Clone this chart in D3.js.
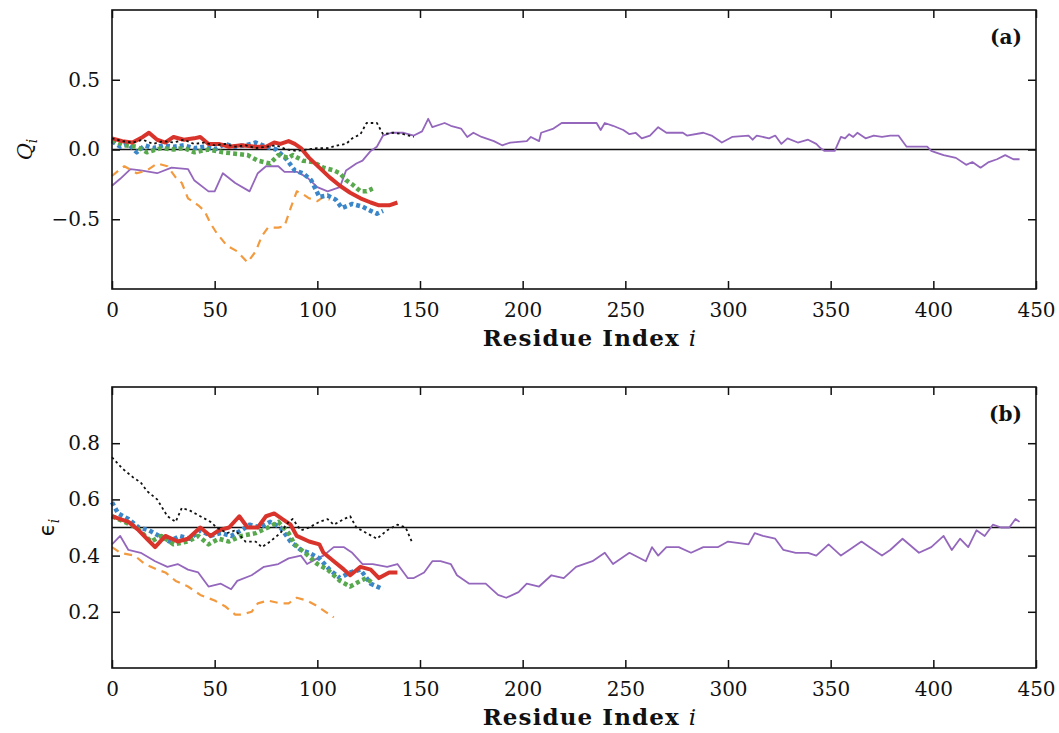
<!DOCTYPE html>
<html>
<head>
<meta charset="utf-8">
<script src="https://cdn.jsdelivr.net/npm/d3@7/dist/d3.min.js"></script>
<style>
  body { margin: 0; background: #fff; }
  svg { display: block; }
  .axis text { font-family: "DejaVu Serif", serif; font-size: 20px; fill: #111; }
  .axis-label { font-family: "DejaVu Serif", serif; font-size: 23px; font-weight: bold; fill: #111; }
</style>
</head>
<body>
<svg id="chart"></svg>
<script>
// shared ticks
const xTicks = [0, 50, 100, 150, 200, 250, 300, 350, 400, 450];
const qTicks = [-0.5, 0.0, 0.5];
const eTicks = [0.2, 0.4, 0.6, 0.8];

// panel (a): Q_i per residue
const purpleQ = [[0,-0.26],[4,-0.21],[9,-0.14],[14,-0.15],[22,-0.17],[29,-0.13],[37,-0.14],[40,-0.22],[47,-0.30],[50,-0.30],[54,-0.17],[60,-0.24],[67,-0.30],[71,-0.17],[75,-0.12],[81,-0.12],[84,-0.16],[90,-0.16],[95,-0.20],[100,-0.27],[105,-0.30],[111,-0.27],[114,-0.15],[119,-0.10],[122,-0.08],[126,-0.01],[129,0.02],[132,0.10],[136,0.12],[142,0.12],[147,0.10],[151,0.13],[154,0.22],[156,0.16],[162,0.19],[165,0.17],[170,0.15],[173,0.09],[176,0.12],[180,0.09],[186,0.06],[190,0.03],[194,0.05],[202,0.06],[204,0.09],[208,0.06],[209,0.12],[215,0.15],[219,0.19],[236,0.19],[238,0.14],[240,0.19],[244,0.17],[249,0.14],[252,0.11],[255,0.12],[258,0.08],[262,0.10],[266,0.16],[270,0.12],[278,0.12],[280,0.10],[288,0.12],[292,0.10],[297,0.05],[302,0.09],[310,0.10],[312,0.07],[314,0.10],[320,0.08],[323,0.10],[326,0.04],[329,0.08],[334,0.05],[339,0.07],[343,0.04],[345,0.01],[347,-0.01],[352,-0.01],[355,0.09],[357,0.08],[359,0.11],[361,0.09],[363,0.12],[367,0.08],[371,0.10],[375,0.09],[379,0.10],[383,0.10],[386,0.04],[387,0.02],[397,0.02],[399,-0.01],[401,-0.02],[405,-0.04],[411,-0.06],[416,-0.11],[419,-0.09],[423,-0.13],[427,-0.09],[431,-0.07],[435,-0.04],[439,-0.07],[442,-0.07]];
const orangeQ = [[0,-0.19],[4,-0.14],[6,-0.12],[12,-0.17],[17,-0.15],[22,-0.10],[27,-0.12],[31,-0.20],[34,-0.24],[37,-0.35],[42,-0.40],[45,-0.44],[48,-0.53],[51,-0.60],[56,-0.69],[61,-0.73],[66,-0.81],[70,-0.73],[73,-0.62],[76,-0.56],[81,-0.56],[84,-0.55],[87,-0.42],[90,-0.30],[93,-0.32],[96,-0.35],[100,-0.37],[103,-0.34],[106,-0.36]];
const blackQ = [[0,0.08],[5,0.06],[10,0.05],[15,0.07],[20,0.04],[25,0.06],[30,0.05],[35,0.07],[40,0.04],[45,0.05],[50,0.03],[55,0.04],[60,0.02],[65,0.03],[70,0.01],[75,0.02],[80,0.03],[85,0.0],[90,-0.01],[95,0.0],[100,0.01],[105,0.01],[110,0.03],[114,0.04],[117,0.08],[121,0.11],[124,0.19],[129,0.19],[132,0.11],[137,0.12],[142,0.11],[147,0.09]];
const redQ = [[0,0.08],[5,0.06],[10,0.05],[15,0.09],[18,0.12],[22,0.07],[26,0.05],[30,0.09],[35,0.07],[40,0.08],[43,0.09],[47,0.04],[52,0.04],[57,0.02],[63,0.03],[70,0.02],[75,0.02],[79,0.05],[82,0.04],[86,0.06],[89,0.04],[92,0.01],[96,-0.06],[101,-0.13],[106,-0.20],[111,-0.26],[116,-0.31],[121,-0.35],[126,-0.38],[130,-0.40],[135,-0.40],[139,-0.38]];
const blueQ = [[0,0.06],[4,0.02],[8,0.04],[12,-0.02],[16,0.03],[20,0.01],[25,0.03],[30,0.02],[35,0.03],[40,0.01],[45,0.02],[50,0.0],[55,0.04],[60,0.02],[65,0.03],[70,0.05],[75,0.02],[80,0.0],[85,-0.07],[89,-0.15],[93,-0.17],[97,-0.22],[101,-0.34],[105,-0.33],[109,-0.36],[112,-0.42],[117,-0.39],[122,-0.41],[126,-0.44],[129,-0.46],[132,-0.44]];
const greenQ = [[0,0.07],[6,0.03],[12,0.02],[17,-0.02],[24,0.01],[30,0.0],[35,0.01],[40,-0.02],[47,0.0],[54,-0.02],[60,-0.03],[66,-0.04],[71,-0.08],[77,-0.10],[81,-0.04],[86,-0.06],[88,-0.04],[93,-0.08],[98,-0.09],[103,-0.13],[108,-0.15],[111,-0.17],[114,-0.22],[117,-0.25],[121,-0.30],[124,-0.30],[127,-0.28]];

// panel (b): epsilon_i per residue
const purpleE = [[0,0.44],[4,0.47],[8,0.42],[14,0.41],[21,0.38],[27,0.36],[32,0.37],[37,0.35],[42,0.34],[47,0.29],[53,0.30],[58,0.28],[61,0.31],[68,0.33],[74,0.36],[81,0.37],[86,0.39],[92,0.40],[95,0.37],[100,0.39],[103,0.40],[108,0.43],[113,0.43],[117,0.41],[122,0.37],[127,0.37],[134,0.36],[139,0.37],[144,0.32],[147,0.32],[152,0.34],[156,0.38],[160,0.38],[165,0.37],[168,0.33],[174,0.30],[182,0.30],[188,0.26],[192,0.25],[198,0.27],[202,0.30],[208,0.29],[214,0.33],[220,0.32],[226,0.36],[234,0.38],[240,0.41],[244,0.37],[252,0.41],[260,0.38],[263,0.43],[266,0.40],[270,0.43],[276,0.43],[282,0.41],[288,0.43],[295,0.43],[300,0.45],[310,0.44],[313,0.48],[317,0.47],[323,0.46],[327,0.42],[333,0.41],[339,0.41],[343,0.40],[349,0.44],[355,0.40],[359,0.42],[365,0.45],[369,0.43],[375,0.40],[379,0.42],[385,0.46],[393,0.41],[399,0.43],[405,0.47],[409,0.42],[413,0.46],[417,0.43],[421,0.49],[425,0.47],[429,0.51],[433,0.50],[437,0.50],[440,0.53],[442,0.52]];
const orangeE = [[0,0.43],[4,0.41],[11,0.40],[16,0.37],[22,0.35],[26,0.34],[31,0.31],[37,0.29],[43,0.26],[50,0.24],[55,0.22],[60,0.19],[63,0.19],[68,0.20],[71,0.23],[76,0.24],[82,0.23],[86,0.23],[90,0.25],[95,0.24],[100,0.22],[104,0.20],[108,0.18]];
const blackE = [[0,0.75],[5,0.71],[10,0.68],[14,0.66],[17,0.63],[22,0.60],[27,0.54],[31,0.52],[34,0.57],[38,0.56],[43,0.54],[48,0.52],[51,0.50],[56,0.48],[60,0.49],[65,0.45],[70,0.45],[73,0.43],[77,0.45],[82,0.48],[86,0.52],[88,0.53],[92,0.49],[96,0.50],[101,0.52],[105,0.53],[108,0.51],[113,0.53],[116,0.54],[119,0.50],[124,0.48],[129,0.46],[134,0.49],[139,0.51],[143,0.50],[146,0.45]];
const redE = [[0,0.54],[4,0.53],[8,0.52],[13,0.49],[17,0.46],[21,0.43],[26,0.47],[32,0.45],[37,0.46],[43,0.50],[48,0.47],[52,0.49],[57,0.50],[62,0.54],[66,0.50],[71,0.50],[75,0.54],[79,0.55],[83,0.53],[87,0.51],[90,0.47],[96,0.45],[101,0.44],[103,0.41],[108,0.38],[113,0.35],[116,0.33],[121,0.36],[126,0.35],[130,0.32],[135,0.34],[139,0.34]];
const blueE = [[0,0.59],[3,0.55],[8,0.53],[13,0.50],[18,0.49],[23,0.47],[28,0.45],[33,0.47],[38,0.46],[43,0.49],[48,0.47],[53,0.48],[58,0.47],[63,0.49],[67,0.51],[72,0.50],[77,0.52],[82,0.50],[87,0.45],[92,0.42],[96,0.41],[101,0.39],[106,0.35],[111,0.32],[116,0.34],[121,0.35],[126,0.30],[132,0.28]];
const greenE = [[0,0.54],[6,0.52],[12,0.50],[19,0.45],[24,0.47],[30,0.44],[37,0.45],[42,0.47],[47,0.44],[52,0.46],[57,0.45],[63,0.47],[70,0.48],[76,0.50],[81,0.52],[86,0.48],[89,0.44],[94,0.41],[100,0.37],[105,0.35],[111,0.31],[116,0.29],[121,0.31],[124,0.32],[127,0.30]];

const W = 1059, H = 733;
const svg = d3.select("#chart").attr("width", W).attr("height", H);

const x = d3.scaleLinear().domain([0, 450]).range([112, 1036]);

const styles = {
  purple: { color: "#9467bd", width: 1.8, dash: null },
  orange: { color: "#f39a3f", width: 2.2, dash: "8,6" },
  blue:   { color: "#3a86c8", width: 4.5, dash: "4,3" },
  green:  { color: "#58a84d", width: 4.5, dash: "4,3" },
  red:    { color: "#d9342b", width: 4, dash: null },
  black:  { color: "#111", width: 1.8, dash: "2.5,3" }
};

function panel(opts) {
  const y = d3.scaleLinear().domain(opts.domain).range([opts.bottom, opts.top]);
  const g = svg.append("g");
  const line = d3.line().x(d => x(d[0])).y(d => y(d[1]));

  // reference line
  g.append("line")
    .attr("x1", x(0)).attr("x2", x(450))
    .attr("y1", y(opts.ref)).attr("y2", y(opts.ref))
    .attr("stroke", "#111").attr("stroke-width", 1.6);

  opts.series.forEach(([data, key]) => {
    const s = styles[key];
    g.append("path")
      .datum(data)
      .attr("d", line)
      .attr("fill", "none")
      .attr("stroke", s.color)
      .attr("stroke-width", s.width)
      .attr("stroke-dasharray", s.dash)
      .attr("stroke-linejoin", "round");
  });

  // axes, matplotlib style: inward ticks on all sides
  const tick = 8;
  g.append("g").attr("class", "axis")
    .attr("transform", `translate(0,${opts.bottom})`)
    .call(d3.axisBottom(x).tickValues(xTicks).tickFormat(d3.format("d")).tickSizeInner(-tick).tickSizeOuter(0).tickPadding(14));
  g.append("g").attr("class", "axis")
    .attr("transform", `translate(0,${opts.top})`)
    .call(d3.axisTop(x).tickValues(xTicks).tickFormat("").tickSizeInner(-tick).tickSizeOuter(0));
  g.append("g").attr("class", "axis")
    .attr("transform", `translate(${x(0)},0)`)
    .call(d3.axisLeft(y).tickValues(opts.ticks).tickFormat(d => d3.format(".1f")(d).replace("-", "\u2212")).tickSizeInner(-tick).tickSizeOuter(0).tickPadding(12));
  g.append("g").attr("class", "axis")
    .attr("transform", `translate(${x(450)},0)`)
    .call(d3.axisRight(y).tickValues(opts.ticks).tickFormat("").tickSizeInner(-tick).tickSizeOuter(0));
  g.selectAll(".axis path.domain").remove();
  g.selectAll(".axis line").attr("stroke", "#111").attr("stroke-width", 1.5);

  g.append("rect")
    .attr("x", x(0)).attr("y", opts.top)
    .attr("width", x(450) - x(0)).attr("height", opts.bottom - opts.top)
    .attr("fill", "none").attr("stroke", "#111").attr("stroke-width", 1.6);

  const xl = g.append("text").attr("class", "axis-label")
    .attr("x", 590).attr("y", opts.bottom + 57)
    .attr("text-anchor", "middle").style("letter-spacing", "1.1px");
  xl.append("tspan").text("Residue Index ");
  xl.append("tspan").attr("font-style", "italic").attr("font-weight", "normal").text("i");

  const yl = g.append("text")
    .attr("transform", `translate(${opts.ylx},${(opts.top + opts.bottom) / 2}) rotate(-90)`)
    .attr("text-anchor", "middle")
    .style("font-family", "DejaVu Serif, serif").style("font-size", "21px").attr("fill", "#111");
  yl.append("tspan").attr("font-style", opts.ylabItalic ? "italic" : "normal")
    .style("font-family", opts.ylabFont || null).text(opts.ylab);
  yl.append("tspan").attr("font-style", "italic").attr("font-size", "14px").attr("dy", 5).text("i");

  g.append("text").attr("class", "axis-label")
    .style("font-size", "20px")
    .attr("x", 1022).attr("y", opts.top + 34)
    .attr("text-anchor", "end").text(opts.tag);
}

panel({
  domain: [-1, 1], top: 10, bottom: 289, ref: 0, ticks: qTicks,
  ylab: "Q", ylabItalic: true, ylx: 32, tag: "(a)",
  series: [[purpleQ, "purple"], [orangeQ, "orange"], [blueQ, "blue"], [greenQ, "green"], [redQ, "red"], [blackQ, "black"]]
});
panel({
  domain: [0, 1], top: 387, bottom: 668, ref: 0.5, ticks: eTicks,
  ylab: "\u03f5", ylabItalic: false, ylabFont: "DejaVu Sans, sans-serif", ylx: 54, tag: "(b)",
  series: [[purpleE, "purple"], [orangeE, "orange"], [blueE, "blue"], [greenE, "green"], [redE, "red"], [blackE, "black"]]
});
</script>
</body>
</html>
